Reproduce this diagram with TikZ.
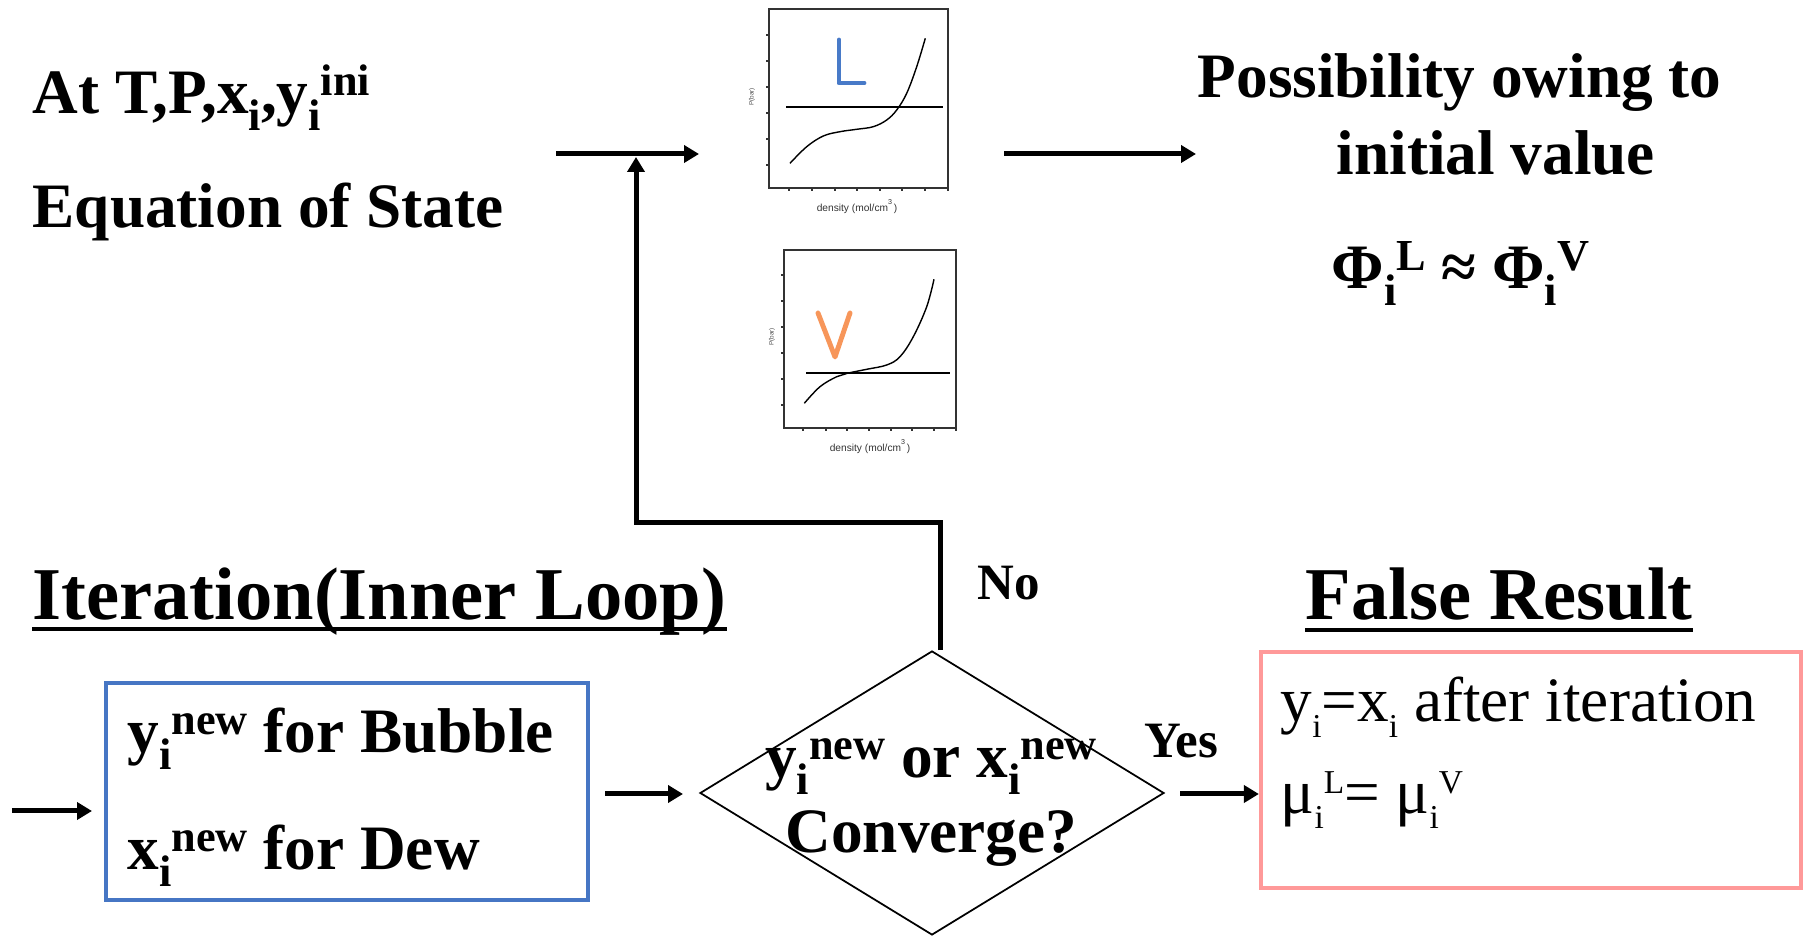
\documentclass[tikz,border=0pt]{standalone}
\usepackage{fontspec}
\setmainfont{Liberation Serif}
\newfontfamily\plotfont{Liberation Sans}
\usetikzlibrary{arrows.meta,shapes.geometric}
\definecolor{bboxc}{RGB}{70,118,196}
\definecolor{pinkc}{RGB}{255,153,153}
\definecolor{lblue}{RGB}{72,122,200}
\definecolor{vorange}{RGB}{247,150,90}
\newcommand{\bsub}[1]{\raisebox{-4.6pt}{\fontsize{12.6}{14}\selectfont #1}}
\newcommand{\bsup}[1]{\raisebox{5.2pt}{\fontsize{12.6}{14}\selectfont #1}}
\newcommand{\rsub}[1]{\raisebox{-4.4pt}{\fontsize{9.5}{11}\selectfont #1}}
\newcommand{\rsup}[1]{\raisebox{5.6pt}{\fontsize{9.5}{11}\selectfont #1}}
\begin{document}
\begin{tikzpicture}[
  txt/.style={inner sep=0pt, anchor=base west, font=\fontsize{18}{21.6}\selectfont\bfseries},
  rtxt/.style={inner sep=0pt, anchor=base west, font=\fontsize{18}{21.6}\selectfont},
  head/.style={inner sep=0pt, anchor=base west, font=\fontsize{21.2}{25}\selectfont\bfseries},
  small/.style={inner sep=0pt, anchor=base west, font=\fontsize{14.5}{17}\selectfont\bfseries},
  uline/.style={line width=0.04cm},
  conn/.style={line width=0.05cm, -{Triangle[width=0.17cm,length=0.15cm]}},
  frame/.style={draw=black!80, line width=0.3pt, inner sep=0pt},
  tick/.style={draw=black!80, line width=0.3pt},
  hl/.style={line width=0.75pt},
  curve/.style={line width=0.4pt},
  letter/.style={line width=1.4pt, line cap=round, line join=round},
  xlab/.style={inner sep=0pt, font=\plotfont\fontsize{2.9}{3.5}\selectfont, text=black!80},
  ylab/.style={inner sep=0pt, rotate=90, font=\plotfont\fontsize{1.8}{2.2}\selectfont, text=black!70}
]
\useasboundingbox (0,0) rectangle (18.04,-9.36);

% ---------- plot 1 (L) ----------
\node[frame, minimum width=1.79cm, minimum height=1.79cm] (p1) at (8.585,-0.985) {};
\foreach \y in {0.35,0.61,0.87,1.13,1.39,1.65} \draw[tick] (7.66,-\y) -- (7.69,-\y);
\foreach \x in {7.89,8.12,8.35,8.57,8.80,9.02,9.25,9.48} \draw[tick] (\x,-1.88) -- (\x,-1.91);
\draw[hl] (7.86,-1.07) -- (9.43,-1.07);
\draw[curve] plot[smooth, tension=0.6] coordinates {(7.90,-1.633) (8.067,-1.467) (8.233,-1.36) (8.40,-1.317) (8.567,-1.293) (8.733,-1.267) (8.867,-1.20) (8.967,-1.10) (9.067,-0.933) (9.167,-0.667) (9.253,-0.383)};
\draw[letter, lblue] (8.39,-0.40) -- (8.39,-0.83) -- (8.64,-0.83);
\node[ylab] (p1y) at (7.52,-0.97) {P(bar)};
\node[xlab] (p1x) at (8.57,-2.07) {density (mol/cm\textsuperscript{3})};

% ---------- plot 2 (V) ----------
\node[frame, minimum width=1.72cm, minimum height=1.78cm] (p2) at (8.70,-3.39) {};
\foreach \y in {2.75,3.01,3.27,3.53,3.79,4.05} \draw[tick] (7.81,-\y) -- (7.84,-\y);
\foreach \x in {8.03,8.26,8.47,8.69,8.91,9.12,9.34,9.56} \draw[tick] (\x,-4.28) -- (\x,-4.31);
\draw[hl] (8.06,-3.73) -- (9.50,-3.73);
\draw[curve] plot[smooth, tension=0.6] coordinates {(8.043,-4.033) (8.20,-3.867) (8.367,-3.767) (8.473,-3.733) (8.667,-3.693) (8.867,-3.65) (9.00,-3.567) (9.133,-3.367) (9.267,-3.067) (9.34,-2.793)};
\draw[letter, vorange] (8.18,-3.13) -- (8.35,-3.57) -- (8.50,-3.13);
\node[ylab] (p2y) at (7.72,-3.37) {P(bar)};
\node[xlab] (p2x) at (8.70,-4.47) {density (mol/cm\textsuperscript{3})};

% ---------- top texts ----------
\node[txt] (t1) at (0.32,-1.14) {At T,P,x\bsub{i},y\bsub{i}\bsup{ini}};
\node[txt] (t2) at (0.32,-2.28) {Equation of State};
\node[txt] (t3) at (11.97,-0.98) {Possibility owing to};
\node[txt] (t4) at (13.36,-1.75) {initial value};
\node[txt] (t5) at (13.31,-2.89) {Φ\bsub{i}\bsup{L} ≈ Φ\bsub{i}\bsup{V}};

% ---------- headings ----------
\node[head] (h1) at (0.32,-6.20) {Iteration(Inner Loop)};
\draw[uline] ([yshift=-0.09cm]h1.base west) -- ([yshift=-0.09cm]h1.base east);
\node[head] (h2) at (13.05,-6.20) {False Result};
\draw[uline] ([yshift=-0.10cm]h2.base west) -- ([yshift=-0.10cm]h2.base east);
\node[small] (no) at (9.77,-6.00) {No};
\node[small] (yes) at (11.44,-7.58) {Yes};

% ---------- blue box ----------
\node[draw=bboxc, line width=1.3pt, minimum width=4.82cm, minimum height=2.17cm, inner sep=0pt] (box1) at (3.47,-7.915) {};
\node[txt] (b1) at (1.27,-7.53) {y\bsub{i}\bsup{new} for Bubble};
\node[txt] (b2) at (1.27,-8.70) {x\bsub{i}\bsup{new} for Dew};

% ---------- diamond ----------
\node[diamond, draw, line width=0.5pt, minimum width=4.64cm, minimum height=2.84cm, inner sep=0pt] (dia) at (9.32,-7.93) {};
\node[txt, anchor=base] (d1) at (9.31,-7.78) {y\bsub{i}\bsup{new} or x\bsub{i}\bsup{new}};
\node[txt, anchor=base] (d2) at (9.315,-8.53) {Converge?};

% ---------- pink box ----------
\node[draw=pinkc, line width=1.2pt, minimum width=5.40cm, minimum height=2.36cm, inner sep=0pt] (box2) at (15.31,-7.70) {};
\node[rtxt] (r1) at (12.80,-7.22) {y\rsub{i}=x\rsub{i} after iteration};
\node[rtxt] (r2) at (12.80,-8.13) {μ\rsub{i}\rsup{L}= μ\rsub{i}\rsup{V}};

% ---------- connectors ----------
\coordinate (inA) at (5.56,-1.54);
\coordinate (inAend) at (6.99,-1.54);
\coordinate (outA) at (10.04,-1.54);
\coordinate (outAend) at (11.96,-1.54);
\coordinate (loopc) at (6.36,-5.23);
\coordinate (loopend) at (6.36,-1.57);
\coordinate (inL) at (0.12,-8.11);
\coordinate (inLend) at (0.92,-8.11);
\coordinate (midA) at (6.05,-7.94);
\coordinate (midAend) at (6.83,-7.94);
\coordinate (yesA) at (11.80,-7.94);

\draw[conn] (inA) -- (inAend);
\draw[conn] (outA) -- (outAend);
\draw[conn] ([xshift=0.08cm]dia.north) |- (loopc) -- (loopend);
\draw[conn] (inL) -- (inLend);
\draw[conn] (midA) -- (midAend);
\draw[conn] (yesA) -- (yesA -| box2.west);
\end{tikzpicture}
\end{document}
